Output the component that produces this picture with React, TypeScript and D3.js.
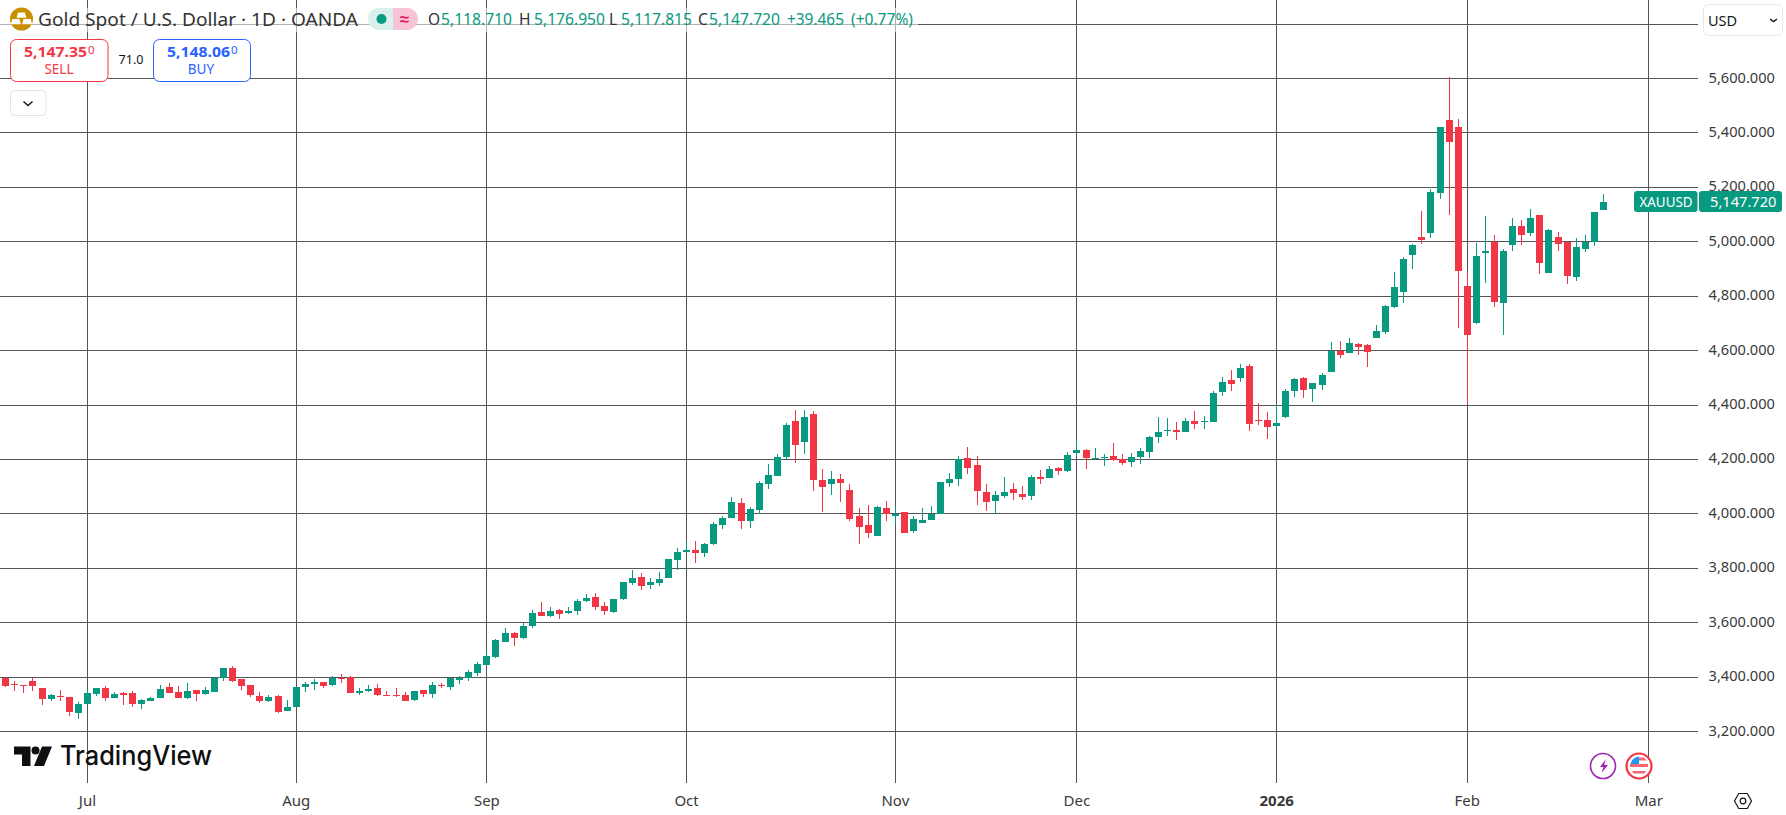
import React from "react";
import * as d3 from "d3";

const opens = [
  3397,3374,3371,3385,3359,3319,3332,3326,3268,3302,
  3337,3359,3324,3341,3341,3300,3313,3322,3363,3344,
  3322,3352,3337,3344,3398,3433,3392,3370,3330,3311,
  3330,3276,3289,3363,3375,3381,3370,3398,3399,3342,
  3348,3359,3336,3336,3333,3315,3352,3337,3370,3363,
  3388,3396,3414,3444,3473,3528,3561,3543,3587,3638,
  3624,3646,3635,3642,3679,3694,3660,3638,3686,3745,
  3767,3738,3745,3763,3830,3859,3866,3855,3888,3958,
  3984,4039,3973,4013,4109,4138,4208,4340,4263,4366,
  4124,4109,4127,4087,3991,3958,3918,4021,3991,4006,
  3936,3965,3977,4001,4113,4127,4204,4179,4079,4046,
  4065,4090,4072,4065,4135,4131,4168,4157,4223,4234,
  4200,4206,4212,4201,4190,4208,4226,4282,4304,4307,
  4300,4340,4337,4337,4447,4491,4498,4543,4344,4344,
  4322,4355,4451,4498,4458,4473,4520,4599,4590,4623,
  4620,4645,4667,4759,4814,4950,5017,5031,5178,5447,
  5421,4836,4700,4958,5001,4774,4987,5057,5031,5097,
  4884,5017,5001,4870,4972,5001,5118.71,
];
const highs = [
  3398,3387,3373,3397,3362,3337,3352,3326,3310,3358,
  3359,3366,3344,3344,3348,3319,3328,3370,3377,3368,
  3377,3352,3363,3402,3433,3440,3392,3373,3344,3333,
  3333,3315,3363,3384,3392,3384,3403,3412,3403,3359,
  3370,3374,3348,3359,3344,3351,3352,3381,3377,3398,
  3403,3425,3455,3491,3539,3580,3565,3598,3646,3675,
  3657,3649,3657,3686,3705,3708,3675,3686,3749,3793,
  3782,3763,3785,3833,3874,3896,3899,3892,3969,3991,
  4061,4057,4024,4120,4182,4219,4333,4381,4381,4377,
  4164,4157,4146,4109,4021,4032,4028,4046,4028,4006,
  3991,4021,4028,4116,4149,4212,4245,4212,4109,4083,
  4135,4113,4101,4142,4160,4175,4171,4226,4267,4237,
  4241,4219,4260,4219,4223,4241,4285,4355,4351,4337,
  4351,4377,4359,4451,4502,4528,4550,4550,4407,4373,
  4403,4458,4498,4502,4480,4517,4631,4634,4645,4627,
  4623,4693,4767,4888,4943,4991,5112,5193,5421,5605,
  5450,4884,4994,5094,5024,4972,5086,5079,5119,5097,
  5046,5035,5001,5013,5024,5108,5176.95,
];
const lows = [
  3363,3349,3342,3349,3298,3313,3313,3257,3246,3302,
  3331,3313,3324,3298,3291,3283,3313,3322,3342,3322,
  3320,3311,3335,3344,3386,3381,3352,3326,3305,3309,
  3268,3276,3289,3344,3352,3359,3366,3377,3341,3333,
  3344,3330,3333,3326,3311,3311,3326,3322,3359,3352,
  3374,3385,3403,3444,3469,3528,3513,3539,3580,3624,
  3620,3613,3631,3627,3675,3646,3627,3635,3683,3738,
  3719,3723,3734,3763,3793,3859,3819,3841,3885,3943,
  3984,3943,3947,3999,4090,4138,4201,4186,4219,4083,
  4006,4068,4043,3973,3888,3910,3918,3973,3962,3929,
  3929,3965,3977,4001,4098,4102,4146,4032,4010,4001,
  4057,4050,4050,4050,4109,4131,4142,4153,4212,4164,
  4200,4175,4193,4179,4171,4182,4204,4260,4285,4271,
  4300,4311,4311,4337,4432,4451,4484,4304,4326,4274,
  4311,4351,4429,4425,4410,4454,4520,4572,4590,4583,
  4539,4645,4660,4756,4774,4899,4991,5013,5156,5097,
  4682,4403,4697,4847,4759,4656,4965,4987,5020,4881,
  4884,4965,4844,4855,4961,4983,5117.815,
];
const closes = [
  3366,3371,3369,3366,3320,3333,3326,3272,3303,3341,
  3359,3322,3337,3335,3302,3315,3325,3355,3342,3322,
  3348,3338,3352,3398,3433,3385,3366,3333,3311,3326,
  3271,3289,3363,3374,3381,3368,3398,3396,3341,3348,
  3355,3333,3333,3333,3311,3348,3337,3370,3366,3396,
  3396,3418,3447,3477,3535,3561,3543,3587,3635,3624,
  3642,3631,3642,3679,3690,3657,3642,3686,3749,3763,
  3734,3749,3760,3833,3859,3866,3855,3888,3962,3984,
  4043,3973,4017,4113,4142,4208,4326,4252,4355,4124,
  4098,4127,4113,3980,3951,3929,4024,3999,4001,3929,
  3980,3977,4001,4116,4127,4201,4168,4083,4043,4068,
  4079,4076,4061,4135,4127,4164,4157,4215,4234,4204,
  4204,4208,4197,4186,4208,4230,4282,4300,4307,4300,
  4340,4329,4340,4443,4484,4476,4535,4329,4340,4318,
  4333,4451,4495,4454,4480,4509,4600,4583,4627,4612,
  4594,4671,4763,4833,4936,4987,5006,5182,5421,5366,
  4892,4656,4947,4965,4778,4965,5057,5024,5086,4921,
  5042,4991,4873,4980,5001,5108,5147.72,
];
const priceTicks = [5800,5600,5400,5200,5000,4800,4600,4400,4200,4000,3800,3600,3400,3200];
const labelledPrices = [5600,5400,5200,5000,4800,4600,4400,4200,4000,3800,3600,3400,3200];
const monthLabels = ["Jul","Aug","Sep","Oct","Nov","Dec","2026","Feb","Mar"];
const monthIndex = [9,32,53,75,98,118,140,161,181];
const legendValues = ["5,118.710","5,176.950","5,117.815","5,147.720"];

const GREEN = "#089981";
const RED = "#F23645";
const BLUE = "#2962FF";
const GRID = "#555555";
const FONT = "'Noto Sans', sans-serif";

const x = d3.scaleLinear().domain([0, 176]).range([5.72, 1603.45]);
const y = d3.scaleLinear().domain([3200, 5600]).range([731.59, 78.55]);
const fmt = d3.format(",.3f");
const px = (v: number) => Math.floor(v);

const legendX = [[428,441],[519,534],[609,621],[698,709]];
const legendLetters = ["O","H","L","C"];

export default function App() {
  const last = closes[closes.length - 1];
  const lastY = y(last);
  return (
    <svg width={1786} height={815} style={{ position: "fixed", left: 0, top: 0, background: "#fff", fontFamily: FONT }}>
      <g>
        {priceTicks.map((p) => (
          <rect key={p} x={0} y={px(y(p))} width={1698} height={1} fill={GRID} />
        ))}
        {monthIndex.map((i) => (
          <rect key={i} x={px(x(i))} y={0} width={1} height={783} fill={GRID} />
        ))}
      </g>

      <g shapeRendering="crispEdges">
        {closes.map((c, i) => {
          const o = opens[i];
          const col = c >= o ? GREEN : RED;
          const cx = px(x(i));
          const top = Math.round(y(Math.max(o, c)));
          const bot = Math.round(y(Math.min(o, c)));
          const hi = Math.round(y(highs[i]));
          const lo = Math.round(y(lows[i]));
          return (
            <g key={i} fill={col}>
              <rect x={cx} y={hi} width={1} height={Math.max(1, lo - hi)} />
              <rect x={cx - 3} y={top} width={7} height={Math.max(1, bot - top)} />
            </g>
          );
        })}
      </g>

      {/* legend */}
      <rect x={0} y={8} width={918} height={24} fill="#fff" fillOpacity={0.55} />
      <circle cx={21.5} cy={19} r={11.5} fill="#C98F00" />
      <g fill="#fff">
        <path d="M18 12.5h7l1.4 5.2h-9.8z" />
        <path d="M12.3 19h7.2l1.4 5.2h-10z" />
        <path d="M23.5 19h7.2l1.4 5.2h-10z" />
      </g>
      <text x={38} y={26} fontSize={18} fill="#333" textLength={320} lengthAdjust="spacingAndGlyphs">
        Gold Spot / U.S. Dollar · 1D · OANDA
      </text>
      <path d="M379 8h14v22h-14a11 11 0 0 1 0-22z" fill="#D9F0EC" />
      <path d="M393 8h14a11 11 0 0 1 0 22h-14z" fill="#F7C3D6" />
      <circle cx={381.5} cy={19} r={5} fill={GREEN} />
      <text x={404.5} y={25} fontSize={17} fontWeight={700} fill="#E91E63" textAnchor="middle">≈</text>
      {legendLetters.map((l, i) => (
        <g key={l}>
          <text x={legendX[i][0]} y={25} fontSize={15.5} fill="#333">{l}</text>
          <text x={legendX[i][1]} y={25} fontSize={15.5} fill={GREEN} textLength={71} lengthAdjust="spacingAndGlyphs">{legendValues[i]}</text>
        </g>
      ))}
      <text x={787} y={25} fontSize={15.5} fill={GREEN} textLength={57} lengthAdjust="spacingAndGlyphs">+39.465</text>
      <text x={851} y={25} fontSize={15.5} fill={GREEN} textLength={62} lengthAdjust="spacingAndGlyphs">(+0.77%)</text>

      {/* buy / sell */}
      <rect x={10.5} y={39.5} width={97.5} height={42} rx={6} fill="#fff" stroke={RED} />
      <text x={24} y={57} fontSize={15} fontWeight={700} fill={RED} textLength={63} lengthAdjust="spacingAndGlyphs">5,147.35</text>
      <text x={88} y={54} fontSize={11.5} fill={RED}>0</text>
      <text x={59} y={74} fontSize={13.5} fill={RED} textAnchor="middle">SELL</text>
      <text x={131} y={64} fontSize={12.5} fill="#131722" textAnchor="middle">71.0</text>
      <rect x={153.5} y={39.5} width={97} height={42} rx={6} fill="#fff" stroke={BLUE} />
      <text x={167} y={57} fontSize={15} fontWeight={700} fill={BLUE} textLength={63} lengthAdjust="spacingAndGlyphs">5,148.06</text>
      <text x={231} y={54} fontSize={11.5} fill={BLUE}>0</text>
      <text x={201} y={74} fontSize={13.5} fill={BLUE} textAnchor="middle">BUY</text>
      <rect x={10.5} y={90.5} width={35.5} height={25} rx={4} fill="#fff" stroke="#E0E3EB" />
      <path d="M23.5 101.5l4.5 4 4.5-4" fill="none" stroke="#131722" strokeWidth={1.5} />

      {/* price axis */}
      {labelledPrices.map((p) => (
        <text key={p} x={1708.5} y={y(p) + 4} fontSize={15} fill="#3a3a3a" textLength={66.5} lengthAdjust="spacingAndGlyphs">
          {fmt(p)}
        </text>
      ))}
      <rect x={1703.5} y={4.5} width={79} height={31} rx={5} fill="#fff" stroke="#E6E8EE" />
      <text x={1708} y={26} fontSize={14.5} fill="#131722">USD</text>
      <path d="M1770 19l3.5 2.5 3.5-2.5" fill="none" stroke="#131722" strokeWidth={1.5} />
      <rect x={1634} y={lastY - 10.5} width={63.5} height={21} rx={3} fill={GREEN} />
      <rect x={1699} y={lastY - 10.5} width={83} height={21} rx={3} fill={GREEN} />
      <text x={1666} y={lastY + 5.5} fontSize={15} fill="#fff" textAnchor="middle" textLength={53} lengthAdjust="spacingAndGlyphs">XAUUSD</text>
      <text x={1710} y={lastY + 5.5} fontSize={15} fill="#fff" textLength={66.5} lengthAdjust="spacingAndGlyphs">{fmt(last)}</text>

      {/* time axis */}
      {monthIndex.map((i, k) => (
        <text key={i} x={x(i)} y={806} fontSize={15} fill="#3a3a3a" textAnchor="middle" fontWeight={monthLabels[k] === "2026" ? 700 : 400}>
          {monthLabels[k]}
        </text>
      ))}

      {/* TradingView logo */}
      <g fill="#0F0F0F">
        <path d="M14 746.5h16.5v19.5h-8.5v-11.5h-8z" />
        <circle cx={35.5} cy={750.5} r={4} />
        <path d="M42 746.5h10l-8 19.5h-10z" />
      </g>
      <text x={60} y={765} fontSize={26.5} fontWeight={500} fill="#0F0F0F" style={{ fontFamily: "Inter, sans-serif" }} textLength={152} lengthAdjust="spacingAndGlyphs">
        TradingView
      </text>

      {/* event icons */}
      <circle cx={1603} cy={766} r={12.5} fill="#fff" stroke="#9C27B0" strokeWidth={1.6} />
      <path d="M1606 759l-6 8h3.5l-2 6 6.5-8h-3.8z" fill="#9C27B0" />
      <circle cx={1639} cy={766} r={12.5} fill="#fff" stroke={RED} strokeWidth={2.2} />
      <path d="M1630 764h18v3h-18z" fill={RED} fillOpacity={0.75} />
      <path d="M1632 771h14l-1.5 2.5h-11z" fill={RED} fillOpacity={0.75} />
      <path d="M1630.5 764a9 9 0 0 1 8.5-7.5v7.5z" fill="#2196F3" />
      <path d="M1639 757.5h5l3 3h-8z" fill={RED} fillOpacity={0.75} />

      {/* settings */}
      <path d="M1734.5 801l4.2-7.5h8.6l4.2 7.5-4.2 7.5h-8.6z" fill="none" stroke="#131722" strokeWidth={1.2} />
      <circle cx={1743} cy={801} r={2.8} fill="none" stroke="#131722" strokeWidth={1.2} />
    </svg>
  );
}
